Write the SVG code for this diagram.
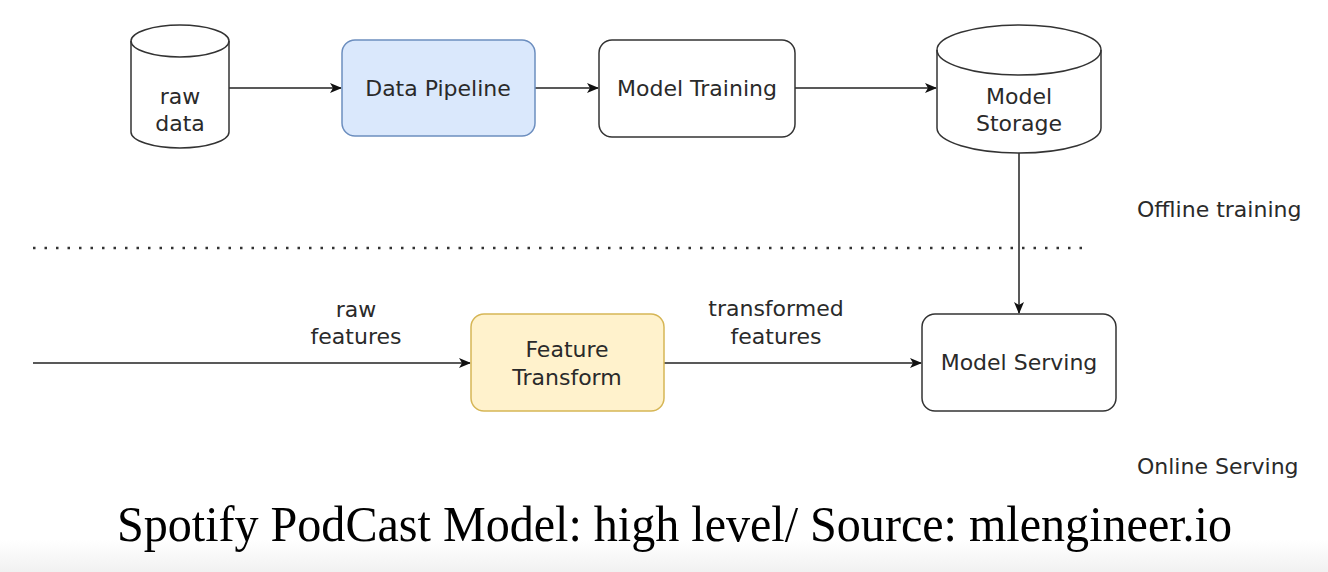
<svg xmlns="http://www.w3.org/2000/svg" width="1328" height="572" viewBox="0 0 1328 572">
<defs>
<linearGradient id="bg" x1="0" y1="0" x2="0" y2="1">
<stop offset="0" stop-color="#ffffff"/>
<stop offset="1" stop-color="#f1f1f1"/>
</linearGradient>
<marker id="arr" viewBox="0 0 12 10" refX="11" refY="5" markerWidth="12" markerHeight="10" markerUnits="userSpaceOnUse" orient="auto">
<path d="M0,0 L12,5 L0,10 L3,5 Z" fill="#111"/>
</marker>
</defs>
<style>
.lbl{font-family:"DejaVu Sans",Verdana,sans-serif;font-size:22px;fill:#2a2a2a;text-anchor:middle}
.side{font-family:"DejaVu Sans",Verdana,sans-serif;font-size:22px;fill:#2a2a2a}
.box{stroke:#333;stroke-width:1.5}
.edge{stroke:#222;stroke-width:1.5;fill:none}
</style>
<rect width="1328" height="572" fill="#ffffff"/>
<rect x="0" y="540" width="1328" height="32" fill="url(#bg)"/>

<g id="connectors">
<line class="edge" x1="229" y1="88" x2="341" y2="88" marker-end="url(#arr)"/>
<line class="edge" x1="535" y1="88" x2="598" y2="88" marker-end="url(#arr)"/>
<line class="edge" x1="795" y1="88" x2="936" y2="88" marker-end="url(#arr)"/>
<line class="edge" x1="1019" y1="153" x2="1019" y2="313" marker-end="url(#arr)"/>
<line class="edge" x1="33" y1="363" x2="470" y2="363" marker-end="url(#arr)"/>
<line class="edge" x1="664" y1="363" x2="921" y2="363" marker-end="url(#arr)"/>
</g>

<g id="raw-data">
<path class="box" fill="#fff" d="M131,41 A49,16 0 0 1 229,41 L229,132 A49,16 0 0 1 131,132 Z"/>
<path class="box" fill="none" d="M131,41 A49,16 0 0 0 229,41"/>
<text class="lbl" x="180" y="104">raw</text>
<text class="lbl" x="180" y="131">data</text>
</g>

<g id="data-pipeline">
<rect x="342" y="40" width="193" height="96" rx="13" fill="#dae8fc" stroke="#6c8ebf" stroke-width="1.5"/>
<text class="lbl" x="438" y="96">Data Pipeline</text>
</g>

<g id="model-training">
<rect class="box" x="599" y="40" width="196" height="97" rx="13" fill="#fff"/>
<text class="lbl" x="697" y="96">Model Training</text>
</g>

<g id="model-storage">
<path class="box" fill="#fff" d="M937,50 A82,25 0 0 1 1101,50 L1101,128 A82,25 0 0 1 937,128 Z"/>
<path class="box" fill="none" d="M937,50 A82,25 0 0 0 1101,50"/>
<text class="lbl" x="1019" y="104">Model</text>
<text class="lbl" x="1019" y="131">Storage</text>
</g>

<line x1="33" y1="248" x2="1085" y2="248" stroke="#333" stroke-width="2.5" stroke-dasharray="2.5,9"/>

<text class="side" x="1137" y="217">Offline training</text>

<text class="lbl" x="356" y="317">raw</text>
<text class="lbl" x="356" y="344">features</text>

<g id="feature-transform">
<rect x="471" y="314" width="193" height="97" rx="13" fill="#fff2cc" stroke="#d6b656" stroke-width="1.5"/>
<text class="lbl" x="567" y="357">Feature</text>
<text class="lbl" x="567" y="385">Transform</text>
</g>

<text class="lbl" x="776" y="316">transformed</text>
<text class="lbl" x="776" y="344">features</text>

<g id="model-serving">
<rect class="box" x="922" y="314" width="194" height="97" rx="13" fill="#fff"/>
<text class="lbl" x="1019" y="370">Model Serving</text>
</g>

<text class="side" x="1137" y="474">Online Serving</text>

<text x="117" y="541" textLength="1115" lengthAdjust="spacingAndGlyphs" font-family="'Liberation Serif','Times New Roman',serif" font-size="50" fill="#000">Spotify PodCast Model: high level/ Source: mlengineer.io</text>
</svg>
